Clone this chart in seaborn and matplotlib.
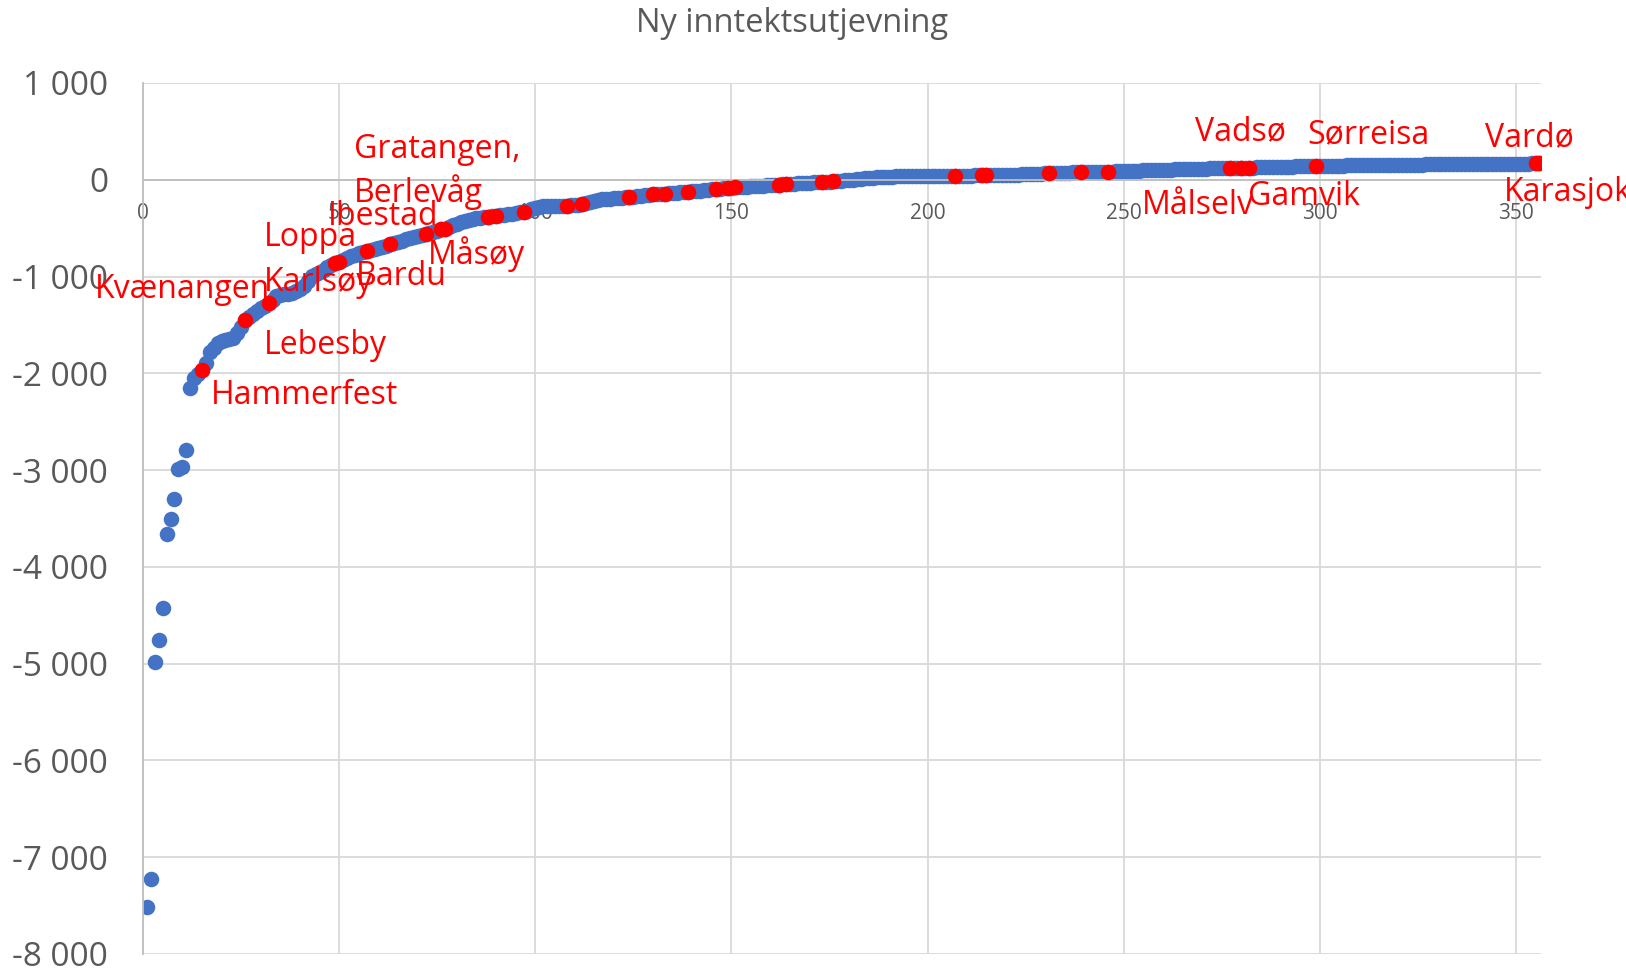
import matplotlib
matplotlib.use("Agg")
import matplotlib.pyplot as plt
import matplotlib.ticker as mticker
import pandas as pd
import seaborn as sns

title = "Ny inntektsutjevning"

# sorted values per municipality (rank 1..356)
values = [
    -7515, -7226, -4985, -4757, -4426, -3662, -3507, -3301, -2991, -2970,
    -2794, -2154, -2048, -2010, -1969, -1893, -1783, -1740, -1686, -1670,
    -1652, -1643, -1634, -1583, -1520, -1452, -1420, -1390, -1359, -1330,
    -1300, -1272, -1240, -1203, -1195, -1185, -1178, -1169, -1150, -1125,
    -1100, -1050, -997, -975, -950, -928, -905, -880, -859, -852,
    -830, -810, -790, -775, -760, -748, -738, -726, -714, -703,
    -692, -680, -669, -655, -642, -630, -617, -605, -594, -582,
    -570, -559, -548, -536, -525, -514, -507, -490, -472, -455,
    -440, -428, -418, -408, -400, -392, -385, -380, -376, -370,
    -365, -360, -355, -350, -345, -338, -330, -318, -305, -295,
    -285, -276, -274, -272, -271, -270, -269, -268, -264, -260,
    -256, -252, -240, -225, -215, -207, -203, -199, -196, -193,
    -190, -186, -182, -179, -175, -170, -166, -162, -157, -152,
    -150, -148, -145, -141, -137, -133, -130, -127, -124, -120,
    -116, -112, -108, -104, -100, -97, -94, -90, -86, -81,
    -76, -74, -72, -70, -68, -66, -64, -61, -58, -56,
    -54, -52, -49, -45, -42, -39, -36, -34, -31, -29,
    -27, -25, -24, -22, -19, -17, -14, -10, -6, -2,
    2, 6, 10, 14, 18, 22, 26, 29, 31, 32,
    33, 34, 35, 35, 36, 36, 37, 37, 38, 38,
    39, 39, 40, 40, 40, 41, 41, 42, 42, 43,
    43, 44, 44, 45, 45, 46, 47, 48, 49, 50,
    51, 53, 54, 55, 57, 58, 60, 61, 63, 65,
    66, 68, 69, 70, 72, 73, 75, 76, 78, 79,
    80, 80, 81, 82, 82, 83, 84, 86, 87, 89,
    90, 92, 93, 95, 96, 98, 99, 100, 102, 103,
    104, 105, 106, 108, 109, 110, 111, 112, 113, 115,
    116, 117, 118, 119, 120, 121, 122, 123, 124, 125,
    125, 125, 126, 127, 128, 129, 130, 131, 132, 133,
    134, 135, 136, 137, 138, 139, 140, 141, 142, 143,
    144, 144, 145, 146, 146, 147, 148, 148, 149, 149,
    150, 150, 151, 151, 152, 152, 153, 153, 154, 154,
    155, 155, 156, 156, 157, 157, 158, 158, 159, 159,
    160, 160, 160, 161, 161, 161, 162, 162, 162, 163,
    163, 163, 164, 164, 164, 165, 165, 165, 166, 166,
    166, 167, 167, 168, 169, 174,
]

# ranks of the highlighted (red) municipalities
red_ranks = [15, 26, 32, 49, 50, 57, 63, 72, 76, 77, 88, 90, 97, 108, 112,
             124, 130, 133, 139, 146, 149, 151, 162, 164, 173, 176, 207, 214,
             215, 231, 239, 246, 277, 280, 282, 299, 355, 356]

label_names = ["Hammerfest", "Lebesby", "Kvænangen", "Karlsøy", "Loppa", "Bardu",
               "Ibestad", "Gratangen,\nBerlevåg", "Måsøy", "Vadsø", "Sørreisa",
               "Vardø", "Målselv", "Gamvik", "Karasjok"]
# layout only: where each label text sits (data units)
label_pos = [(17.2, -2226), (30.8, -1710), (-12.2, -1131), (30.8, -1059),
             (30.8, -594), (54.2, -997), (47.1, -377), (53.7, 88),
             (72.6, -770), (268.1, 501), (296.8, 460), (342.2, 439),
             (254.6, -264), (281.8, -170), (346.9, -129)]

df = pd.DataFrame({"rank": range(1, len(values) + 1), "value": values})
df["red"] = df["rank"].isin(red_ranks)

sns.set_theme(style="white")
plt.rcParams["font.family"] = ["Open Sans", "DejaVu Sans"]

grey = "#595959"
fig = plt.figure(figsize=(16.26, 9.68), dpi=100)
ax = fig.add_axes([0.088, 0.0145, 0.86, 0.8998])

sns.scatterplot(data=df, x="rank", y="value", color="#4472C4", s=125,
                linewidth=0, ax=ax, zorder=2)
sns.scatterplot(data=df[df["red"]], x="rank", y="value", color="#FF0000", s=125,
                linewidth=0, ax=ax, zorder=3)

for name, (lx, ly) in zip(label_names, label_pos):
    ax.text(lx, ly, name, color="#FF0000", fontsize=23, va="center", ha="left",
            linespacing=1.3, zorder=4)

ax.set_xlim(0, 356.5)
ax.set_ylim(-8000, 1000)
ax.set_xticks(range(0, 351, 50))
ax.set_yticks(range(-8000, 1001, 1000))
ax.yaxis.set_major_formatter(mticker.FuncFormatter(
    lambda v, p: "{:,}".format(int(v)).replace(",", " ")))
ax.grid(True, color="#d9d9d9", linewidth=1.3)
ax.set_axisbelow(True)
for s in ["top", "right"]:
    ax.spines[s].set_visible(False)
ax.spines["left"].set_color("#bfbfbf")
ax.spines["left"].set_linewidth(1.3)
ax.spines["bottom"].set_position(("data", 0))
ax.spines["bottom"].set_color("#bfbfbf")
ax.spines["bottom"].set_linewidth(1.3)
ax.tick_params(axis="x", length=0, pad=17, labelsize=15, labelcolor=grey)
ax.tick_params(axis="y", length=0, pad=25, labelsize=24, labelcolor=grey)
ax.set_xlabel("")
ax.set_ylabel("")

fig.text(0.487, 1 - 24 / 968, title, ha="center", va="center", fontsize=23.5, color=grey)

fig.savefig("out.png", dpi=100)
